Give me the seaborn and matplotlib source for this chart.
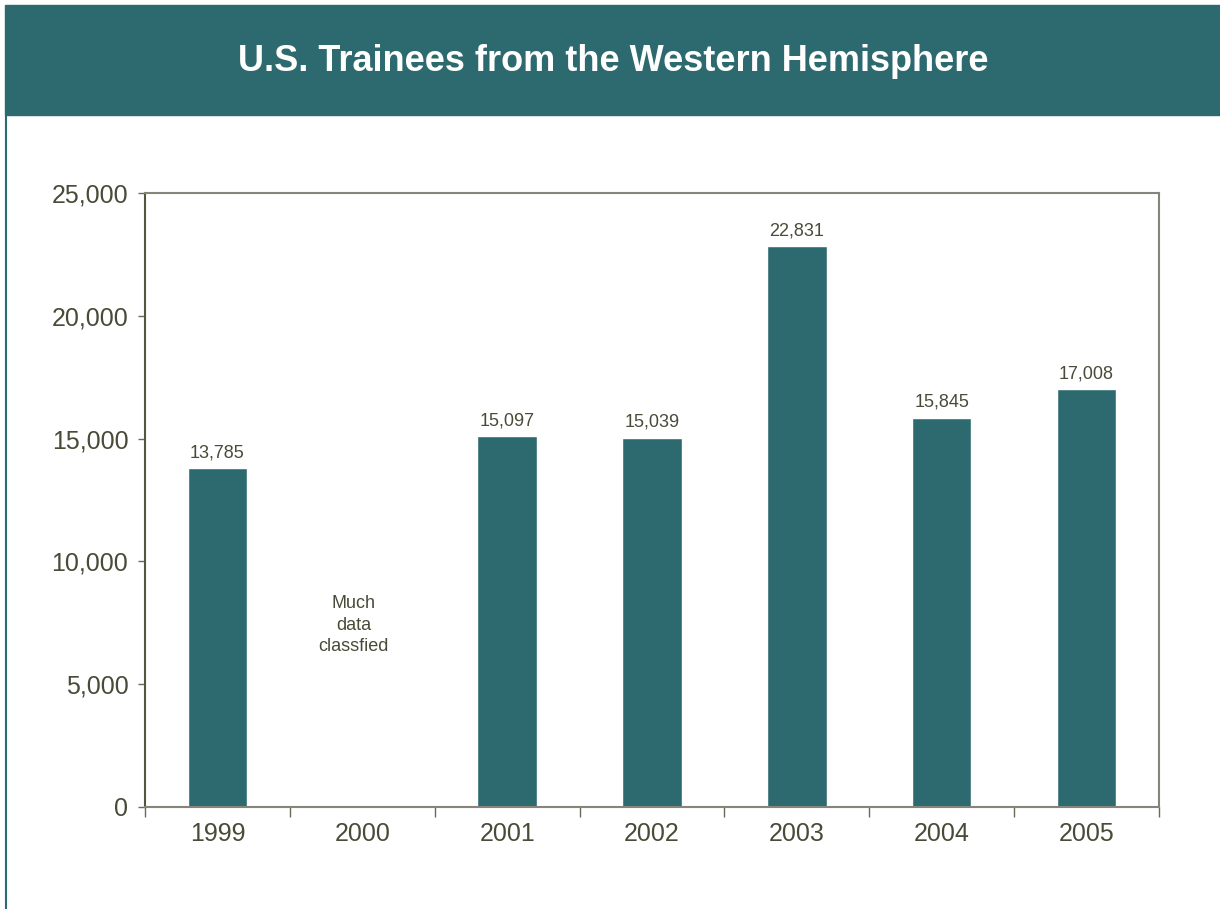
import matplotlib
matplotlib.use("Agg")
import matplotlib.pyplot as plt
import matplotlib.patches as mpatches
import numpy as np
import pandas as pd
import seaborn as sns

# Données
years = ["1999", "2000", "2001", "2002", "2003", "2004", "2005"]
trainees = [13785, np.nan, 15097, 15039, 22831, 15845, 17008]
note_text = "Much\ndata\nclassfied"
note_year_index = 1
note_value = 7400

teal = "#2d6a6f"
text_col = "#4a4a38"

df = pd.DataFrame({"year": years, "trainees": trainees})

sns.set_theme(style="white")
plt.rcParams["font.family"] = ["Liberation Sans Narrow", "Liberation Sans", "DejaVu Sans"]

fig = plt.figure(figsize=(12.2, 9.09), dpi=100)

# Bandeau du titre
fig.patches.append(mpatches.Rectangle((5 / 1220, 1 - 115 / 909), 1, 110 / 909,
                                      transform=fig.transFigure, color=teal, zorder=0))
fig.lines.append(plt.Line2D([6 / 1220, 6 / 1220], [0, 1 - 115 / 909],
                            transform=fig.transFigure, color=teal, lw=1.5))
fig.text(0.503, 0.932, "U.S. Trainees from the Western Hemisphere", color="white",
         fontsize=26, fontweight="bold", ha="center", va="center")

ax = fig.add_axes([145 / 1220, 1 - 807 / 909, 1014 / 1220, 614 / 909])
sns.barplot(data=df, x="year", y="trainees", order=years, color=teal,
            saturation=1, width=0.41, ax=ax)

for c in ax.containers:
    ax.bar_label(c, labels=[f"{v:,.0f}" for v in df["trainees"].dropna()],
                 padding=5, fontsize=13, color=text_col)

ax.text(note_year_index - 0.06, note_value, note_text, ha="center", va="center",
        fontsize=13, color=text_col, linespacing=1.35)

ax.set_ylim(0, 25000)
ax.set_xlim(-0.5, len(years) - 0.5)
ax.set_yticks(range(0, 25001, 5000))
ax.set_yticklabels([f"{v:,}" for v in range(0, 25001, 5000)], fontsize=18, color=text_col)
ax.set_xticks(range(len(years)))
ax.set_xticklabels(years, fontsize=18, color=text_col)
ax.set_xticks(np.arange(-0.5, len(years), 1.0), minor=True)
ax.tick_params(axis="x", which="major", length=0, pad=11)
ax.tick_params(axis="x", which="minor", length=7, direction="out", color="#6a6a58", width=1, bottom=True)
ax.tick_params(axis="y", length=5, direction="out", color="#6a6a58", width=1, pad=7, left=True)
ax.set_xlabel("")
ax.set_ylabel("")

for side in ["top", "right", "bottom"]:
    ax.spines[side].set_color("#85857a")
    ax.spines[side].set_linewidth(1.5)
ax.spines["left"].set_color("#55553f")
ax.spines["left"].set_linewidth(1.5)

plt.savefig("out.png", dpi=100)
plt.close()
